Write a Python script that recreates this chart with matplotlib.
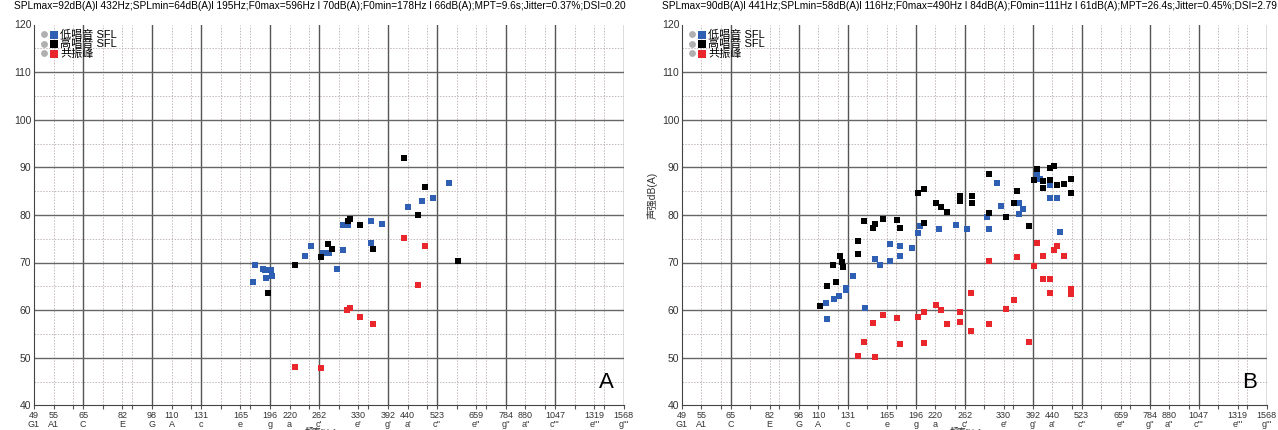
import numpy as np
import matplotlib
matplotlib.use('Agg')
import matplotlib.pyplot as plt
from matplotlib.lines import Line2D
from matplotlib.legend_handler import HandlerTuple

plt.rcParams['font.family'] = ['Liberation Sans', 'Noto Sans CJK SC', 'DejaVu Sans']

# x axis: note frequencies
tick_freqs = [49, 55, 65.4, 82.4, 98, 110, 130.8, 164.8, 196, 220, 261.6, 329.6,
              392, 440, 523.3, 659.3, 784, 880, 1046.5, 1318.5, 1568]
tick_nums = ['49', '55', '65', '82', '98', '110', '131', '165', '196', '220', '262', '330',
             '392', '440', '523', '659', '784', '880', '1047', '1319', '1568']
tick_notes = ['G1', 'A1', 'C', 'E', 'G', 'A', 'c', 'e', 'g', 'a', "c'", "e'",
              "g'", "a'", "c''", "e''", "g''", "a''", "c'''", "e'''", "g'''"]
solid_freqs = [65.4, 98, 130.8, 196, 261.6, 392, 523.3, 784, 1046.5, 1568]
dotted_freqs = [55, 61.7, 73.4, 82.4, 87.3, 110, 123.5, 146.8, 164.8, 174.6, 220, 246.9,
                293.7, 329.6, 349.2, 440, 493.9, 587.3, 659.3, 698.5, 880, 987.8,
                1174.7, 1318.5, 1396.9]

# panel A
a_low_f = [177, 180, 188, 190, 197, 191, 198, 241, 250, 268, 278, 290, 302, 302, 310,
           355, 355, 379, 440, 478, 512, 563]
a_low_db = [65.8, 69.5, 68.7, 68.4, 68.4, 66.8, 67.2, 71.4, 73.4, 72.0, 72.0, 68.6, 72.6,
            77.8, 77.9, 78.8, 74.1, 78.0, 81.7, 83.0, 83.6, 86.7]
a_high_f = [194, 227, 264, 275, 282, 310, 314, 333, 360, 430, 468, 488, 592]
a_high_db = [63.6, 69.5, 71.2, 73.8, 72.9, 78.8, 79.2, 77.8, 72.8, 91.9, 80.0, 85.8, 70.3]
a_form_f = [227, 264, 309, 314, 333, 360, 430, 468, 488]
a_form_db = [48.1, 47.8, 60.1, 60.4, 58.5, 57.0, 75.2, 65.3, 73.4]
a_title = ("SPLmax=92dB(A)l 432Hz;SPLmin=64dB(A)l 195Hz;F0max=596Hz l 70dB(A);"
           "F0min=178Hz l 66dB(A);MPT=9.6s;Jitter=0.37%;DSI=0.20")

# panel B
b_low_f = [115, 116, 120.5, 124, 129.5, 129.7, 135, 145, 154, 158, 168, 168, 178, 178, 191,
           199, 201, 225, 248, 266, 302, 298, 316, 325, 362, 370, 362, 402, 410, 434, 434,
           451, 460]
b_low_db = [61.4, 58.2, 62.4, 63.0, 64.3, 64.7, 67.2, 60.5, 70.7, 69.4, 73.9, 70.3, 73.4,
            71.4, 73.1, 76.1, 77.7, 77.0, 77.8, 77.0, 77.1, 79.5, 86.6, 81.8, 82.4, 81.2,
            80.1, 88.4, 87.5, 86.3, 83.6, 83.6, 76.5]
b_high_f = [111, 116, 120, 122, 125, 126.5, 127, 139, 139, 144, 152, 154, 161, 175, 178,
            199, 206, 206, 221, 228, 235, 254, 254, 273, 273, 302, 302, 335, 351, 356, 382,
            394, 402, 417, 417, 433, 434, 443, 451, 471, 491, 491]
b_high_db = [60.9, 65.1, 69.5, 66.0, 71.4, 70.1, 69.1, 71.8, 74.5, 78.8, 77.2, 78.0, 79.1,
             78.9, 77.2, 84.5, 85.5, 78.4, 82.5, 81.7, 80.7, 84.0, 83.0, 84.0, 82.6, 88.6,
             80.4, 79.6, 82.6, 85.1, 77.7, 87.3, 89.6, 87.1, 85.7, 87.3, 89.9, 90.2, 86.3,
             86.5, 87.6, 84.5]
b_form_f = [139, 144, 154, 152, 161, 175, 178, 199, 206, 206, 221, 228, 235, 272, 254, 254,
            272, 302, 302, 335, 351, 356, 382, 394, 402, 417, 417, 434, 434, 443, 451, 471,
            491, 491]
b_form_db = [50.4, 53.2, 50.2, 57.2, 59.0, 58.3, 52.8, 58.6, 59.5, 53.0, 61.1, 60.1, 57.0,
             63.5, 59.6, 57.6, 55.7, 70.3, 57.1, 60.3, 62.2, 71.2, 53.2, 69.2, 74.0, 71.4,
             66.5, 66.5, 63.6, 72.6, 73.5, 71.4, 64.5, 63.4]
b_title = ("SPLmax=90dB(A)l 441Hz;SPLmin=58dB(A)l 116Hz;F0max=490Hz l 84dB(A);"
           "F0min=111Hz l 61dB(A);MPT=26.4s;Jitter=0.45%;DSI=2.79")

labels = ['低唱音 SFL', '高唱音 SFL', '共振峰']
colors = ['#2f5fb3', '#000000', '#e8262b']

W, H = 1278, 430
fig = plt.figure(figsize=(W / 100, H / 100), dpi=100)


def panel(x0, x1, low, high, form, title, letter, ylabel):
    ax = fig.add_axes([x0 / W, (H - 405.3) / H, (x1 - x0) / W, 380.8 / H])
    ax.set_xscale('log')
    ax.set_xlim(49, 1570)
    ax.set_ylim(40, 120)
    for f in dotted_freqs:
        ax.axvline(f, color='#c4b8b8', lw=0.7, ls=(0, (1.5, 1.5)), zorder=0)
    for f in solid_freqs:
        ax.axvline(f, color='#555555', lw=1.0, zorder=0.5)
    for y in range(45, 120, 10):
        ax.axhline(y, color='#c4b8b8', lw=0.7, ls=(0, (1.5, 1.5)), zorder=0)
    for y in range(50, 120, 10):
        ax.axhline(y, color='#666666', lw=1.0, zorder=0.5)

    hs = []
    for (f, d), c in zip([low, high, form], colors):
        hs.append(ax.scatter(f, d, marker='s', s=18, color=c, linewidths=0, zorder=3))

    ax.set_xticks(tick_freqs)
    ax.set_xticklabels([n + '\n' + t for n, t in zip(tick_nums, tick_notes)],
                       fontsize=6.5, color='#333333', linespacing=1.0)
    ax.set_xticks(dotted_freqs, minor=True)
    ax.xaxis.set_minor_formatter(plt.NullFormatter())
    ax.tick_params(axis='x', which='both', length=3, width=0.8, color='#555555', pad=1)
    ax.set_yticks(range(40, 121, 10))
    ax.tick_params(axis='y', labelsize=7.5, length=0, pad=2, labelcolor='#333333')
    for s in ['top', 'right']:
        ax.spines[s].set_visible(False)
    for s in ['left', 'bottom']:
        ax.spines[s].set_color('#444444')

    dots = [Line2D([], [], marker='o', ls='', ms=3, color='#b0b0b0') for _ in hs]
    ax.legend([(d, h) for d, h in zip(dots, hs)], labels, loc='upper left',
              bbox_to_anchor=(-0.002, 1.008), frameon=False, fontsize=8,
              labelspacing=-0.05, handletextpad=0.15, borderpad=0.2, handlelength=1.6,
              markerscale=1.3,
              handler_map={tuple: HandlerTuple(ndivide=None, pad=0.2)})

    ax.text(-0.034, 1.035, title, transform=ax.transAxes, fontsize=7.3, ha='left',
            va='bottom')
    ax.text(0.971, 0.061, letter, transform=ax.transAxes, fontsize=16, ha='center',
            va='center')
    ax.text(0.485, -0.058, '频率[Hz]', transform=ax.transAxes, fontsize=6, ha='center',
            va='top', color='#333333')
    if ylabel:
        ax.set_ylabel('声强dB(A)', fontsize=7.5, color='#333333')
        ax.yaxis.set_label_coords(-0.042, 0.55)
    return ax


panel(34, 624, (a_low_f, a_low_db), (a_high_f, a_high_db), (a_form_f, a_form_db),
      a_title, 'A', False)
panel(682, 1267, (b_low_f, b_low_db), (b_high_f, b_high_db), (b_form_f, b_form_db),
      b_title, 'B', True)

fig.savefig('out.png', dpi=100)
